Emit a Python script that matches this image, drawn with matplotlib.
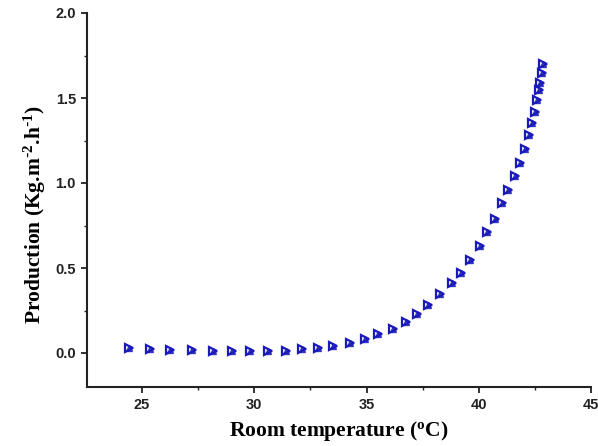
import matplotlib
matplotlib.use("Agg")
import matplotlib.pyplot as plt
from matplotlib.ticker import MultipleLocator

# room temperature (oC) and production (Kg.m-2.h-1)
temp = [24.42, 25.36, 26.25, 27.23, 28.16, 29.01, 29.81, 30.61, 31.41, 32.11,
        32.85, 33.52, 34.26, 34.93, 35.52, 36.16, 36.75, 37.23, 37.75, 38.27,
        38.79, 39.23, 39.63, 40.05, 40.37, 40.72, 41.02, 41.31, 41.61, 41.83,
        42.05, 42.24, 42.39, 42.50, 42.60, 42.69, 42.75, 42.80, 42.84]
prod = [0.030, 0.022, 0.018, 0.015, 0.012, 0.010, 0.010, 0.010, 0.012, 0.022,
        0.031, 0.041, 0.061, 0.081, 0.11, 0.14, 0.18, 0.23, 0.28, 0.35,
        0.41, 0.47, 0.55, 0.63, 0.71, 0.79, 0.88, 0.96, 1.04, 1.12,
        1.20, 1.28, 1.35, 1.42, 1.49, 1.55, 1.59, 1.65, 1.70]

plt.rcParams['mathtext.default'] = 'regular'

fig = plt.figure(figsize=(5.98, 4.46), dpi=100)
ax = fig.add_axes([87 / 598, 1 - 387 / 446, 504 / 598, 374 / 446])

blue = '#1a1ab8'
ax.plot(temp, prod, linestyle='none', marker='>', markersize=5.5,
        markerfacecolor='none', markeredgecolor=blue, markeredgewidth=1.6)
ax.plot(temp, prod, linestyle='none', marker='^', markersize=3.8,
        markerfacecolor=blue, markeredgecolor=blue, alpha=0.8)

ax.set_xlim(22.55, 45)
ax.set_ylim(-0.2, 2.0)

ax.spines['top'].set_visible(False)
ax.spines['right'].set_visible(False)
for s in ('left', 'bottom'):
    ax.spines[s].set_linewidth(1.5)
    ax.spines[s].set_color('#222222')

ax.xaxis.set_major_locator(MultipleLocator(5))
ax.xaxis.set_minor_locator(MultipleLocator(2.5))
ax.yaxis.set_major_locator(MultipleLocator(0.5))
ax.yaxis.set_minor_locator(MultipleLocator(0.25))
ax.set_yticks([0.0, 0.5, 1.0, 1.5, 2.0])
ax.set_yticklabels(['0.0', '0.5', '1.0', '1.5', '2.0'])

ax.tick_params(which='major', direction='out', length=4, width=1.3, color='#222222', pad=4)
ax.tick_params(which='minor', direction='out', length=2.5, width=1.0, color='#222222')
for lab in ax.get_xticklabels() + ax.get_yticklabels():
    lab.set_fontfamily('Liberation Sans')
    lab.set_fontweight('bold')
    lab.set_fontsize(10.5)
    lab.set_color('#222222')

ax.set_xlabel(r'Room temperature ($^{o}$C)', fontfamily='Liberation Serif',
              fontweight='bold', fontsize=15.5)
ax.set_ylabel(r'Production (Kg.m$^{\text{-}2}$.h$^{\text{-}1}$)', fontfamily='Liberation Serif',
              fontweight='bold', fontsize=15.5)
ax.xaxis.set_label_coords(0.5, -0.085)
ax.yaxis.set_label_coords(-0.077, 0.46)

fig.savefig('out.png', dpi=100)
